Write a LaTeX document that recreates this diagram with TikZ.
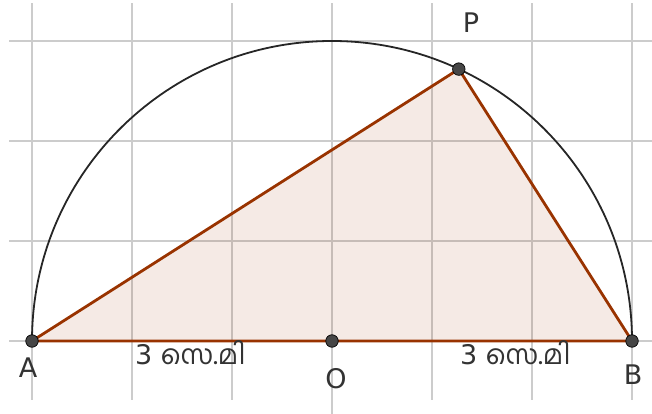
\documentclass[tikz,border=0pt]{standalone}
\usepackage{fontspec}
\setmainfont{DejaVu Sans}
\newfontfamily\malfont[Script=Malayalam]{Hind Kochi}
\definecolor{gridc}{RGB}{204,204,204}
\definecolor{brownc}{RGB}{153,51,0}
\definecolor{ptc}{RGB}{70,70,70}
\begin{document}
\begin{tikzpicture}[x=1pt,y=1pt,
  gridline/.style={draw=gridc, line width=1.3pt},
  trifill/.style={fill=brownc, fill opacity=0.1},
  triedge/.style={draw=brownc, line width=2.8pt, line join=round},
  arcline/.style={draw=black!85, line width=1.8pt},
  ptdot/.style={circle, fill=ptc, draw=black, line width=0.7pt, inner sep=0pt, minimum size=12.5pt},
  lbl/.style={font=\fontsize{27}{32}\selectfont, anchor=base, inner sep=0pt, text=black!80},
  dimlbl/.style={font=\fontsize{27}{32}\selectfont, anchor=base west, inner sep=0pt, text=black!80}]
\useasboundingbox (0,0) rectangle (652,414);
% grid
\foreach \x in {32,132,232,432,532,632} \draw[gridline] (\x,14) -- (\x,411);
\draw[gridline] (332,0) -- (332,411);
\foreach \y in {73,173,273,373} \draw[gridline] (9,\y) -- (652,\y);
% points
\coordinate (A) at (32,73);
\coordinate (O) at (332,73);
\coordinate (B) at (632,73);
\coordinate (P) at (458.8,344.9);
% triangle fill
\fill[trifill] (A) -- (B) -- (P) -- cycle;
% semicircle
\draw[arcline] (B) arc[start angle=0, end angle=180, radius=300];
% triangle edges
\draw[triedge] (A) -- (B) -- (P) -- cycle;
% dots
\node[ptdot] (dA) at (A) {};
\node[ptdot] (dO) at (O) {};
\node[ptdot] (dB) at (B) {};
\node[ptdot] (dP) at (P) {};
% labels
\node[lbl] (lP) at (471,381) {P};
\node[lbl] (lA) at (28,36) {A};
\node[lbl] (lO) at (336,25) {O};
\node[lbl] (lB) at (633,29) {B};
\node[dimlbl] (d1) at (135,49) {3 {\malfont സെ.മി}};
\node[dimlbl] (d2) at (460,49) {3 {\malfont സെ.മി}};
\end{tikzpicture}
\end{document}
